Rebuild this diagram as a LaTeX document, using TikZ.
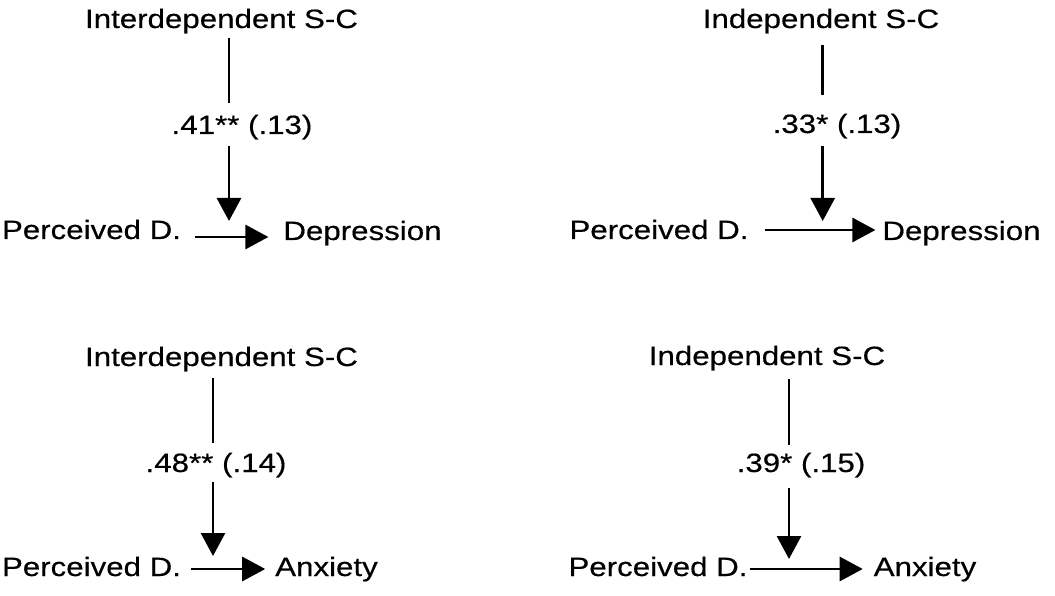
\documentclass[tikz,border=0pt]{standalone}
\usepackage{fontspec}
\setmainfont{Liberation Sans}[FakeStretch=1.18, FakeBold=0.4]
\usepackage{tikz}
\usetikzlibrary{arrows.meta}

\begin{document}
\begin{tikzpicture}[x=1pt, y=-1pt,
        lbl/.style={font=\fontsize{26.5}{31}\selectfont, inner sep=0pt, outer sep=0pt, anchor=base},
        link/.style={line width=2.8pt},
        arr/.style={line width=2.8pt, -{Triangle[length=23pt, width=24pt]}}]
        \useasboundingbox (0, 0) rectangle (1055, 596);

        \node[lbl] (top1) at (221.5, 28) {Interdependent S-C};
        \node[lbl] (coef1) at (242, 134) {.41** (.13)};
        \node[lbl] (pd1) at (91.5, 239) {Perceived D.};
        \node[lbl] (out1) at (362.5, 240) {Depression};
        \coordinate (j1) at (229, 237);

        \node[lbl] (top2) at (821, 28) {Independent S-C};
        \node[lbl] (coef2) at (837, 133) {.33* (.13)};
        \node[lbl] (pd2) at (659, 239) {Perceived D.};
        \node[lbl] (out2) at (961.5, 240) {Depression};
        \coordinate (j2) at (822.7, 230);

        \node[lbl] (top3) at (221.5, 366) {Interdependent S-C};
        \node[lbl] (coef3) at (216, 472) {.48** (.14)};
        \node[lbl] (pd3) at (91.5, 576) {Perceived D.};
        \node[lbl] (out3) at (326.5, 576) {Anxiety};
        \coordinate (j3) at (213, 569);

        \node[lbl] (top4) at (767, 365) {Independent S-C};
        \node[lbl] (coef4) at (801, 472) {.39* (.15)};
        \node[lbl] (pd4) at (658, 576) {Perceived D.};
        \node[lbl] (out4) at (925, 576) {Anxiety};
        \coordinate (j4) at (789, 569);

        \draw[link, shorten <=4.5pt, shorten >=12pt] (top1.south -| j1) -- (coef1.north -| j1);
        \draw[arr, shorten <=6.5pt, shorten >=16pt] (coef1.south -| j1) -- (j1);
        \draw[arr, shorten <=14pt, shorten >=15pt] (pd1.east |- j1) -- (out1.west |- j1);

        \draw[link, shorten <=11.5pt, shorten >=19pt] (top2.south -| j2) -- (coef2.north -| j2);
        \draw[arr, shorten <=7.5pt, shorten >=9pt] (coef2.south -| j2) -- (j2);
        \draw[arr, shorten <=16pt, shorten >=7pt] (pd2.east |- j2) -- (out2.west |- j2);

        \draw[link, shorten <=6.5pt, shorten >=10pt] (top3.south -| j3) -- (coef3.north -| j3);
        \draw[arr, shorten <=4.5pt, shorten >=13pt] (coef3.south -| j3) -- (j3);
        \draw[arr, shorten <=10pt, shorten >=10pt] (pd3.east |- j3) -- (out3.west |- j3);

        \draw[link, shorten <=8.5pt, shorten >=8pt] (top4.south -| j4) -- (coef4.north -| j4);
        \draw[arr, shorten <=10.5pt, shorten >=10pt] (coef4.south -| j4) -- (j4);
        \draw[arr, shorten <=2pt, shorten >=11pt] (pd4.east |- j4) -- (out4.west |- j4);
    \end{tikzpicture}
\end{document}
